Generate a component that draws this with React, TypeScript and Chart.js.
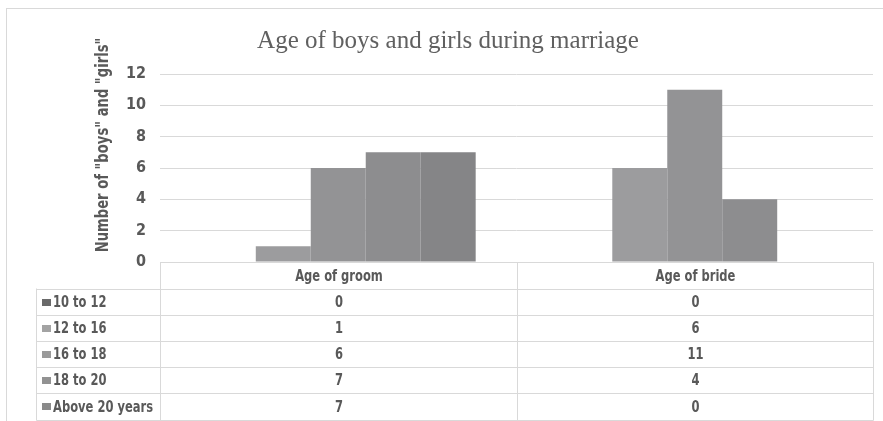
import React, { useEffect, useRef } from "react";
import { Chart, registerables } from "chart.js";

Chart.register(...registerables);

const categories = ["Age of groom", "Age of bride"];
const seriesNames = ["10 to 12", "12 to 16", "16 to 18", "18 to 20", "Above 20 years"];
const groomValues = [0, 1, 6, 7, 7];
const brideValues = [0, 6, 11, 4, 0];
const barColors = ["#6f6f6f", "#9c9c9e", "#939395", "#8d8d8f", "#858587"];
const legendColors = ["#6a6a6a", "#a3a3a3", "#9a9a9a", "#929292", "#8a8a8a"];
const yTicks = [0, 2, 4, 6, 8, 10, 12];
const chartTitle = "Age of boys and girls during marriage";
const yTitle = 'Number of "boys" and "girls"';

const COND = '"DejaVu Sans Condensed", "Liberation Sans Narrow", sans-serif';
const TEXT = "#595959";
const LINE = "#d9d9d9";
const SX = 0.8;

function condText(ctx: any, text: string, x: number, y: number, align: string, sx: number = SX) {
  ctx.save();
  ctx.translate(x, y);
  ctx.scale(sx, 1);
  ctx.textAlign = align;
  ctx.fillText(text, 0, 0);
  ctx.restore();
}

const decorPlugin = {
  id: "decor",
  afterDraw(chart: any) {
    const ctx = chart.ctx;
    const xs = chart.scales.x;
    const { left, right, bottom } = chart.chartArea;
    ctx.save();
    // outer border
    ctx.strokeStyle = LINE;
    ctx.lineWidth = 1;
    ctx.strokeRect(6.5, 8.5, 900, 430);
    // title
    ctx.fillStyle = "#606060";
    ctx.font = '25px "Liberation Serif", "DejaVu Serif", serif';
    ctx.textAlign = "center";
    ctx.textBaseline = "alphabetic";
    ctx.fillText(chartTitle, 448, 48);
    // y title
    ctx.save();
    ctx.translate(104, 145);
    ctx.rotate(-Math.PI / 2);
    ctx.font = "bold 17px " + COND;
    ctx.fillStyle = TEXT;
    ctx.textBaseline = "middle";
    condText(ctx, yTitle, 0, 0, "center", 0.86);
    ctx.restore();

    // data table
    const mid = Math.round((xs.getPixelForValue(0) + xs.getPixelForValue(1)) / 2) + 0.5;
    const L = Math.round(left) + 0.5;
    const R = Math.round(right) + 0.5;
    const top = Math.round(bottom) + 0.5;
    const labelLeft = 36.5;
    const headerH = 26;
    const rowH = 26.2;
    const nRows = seriesNames.length;
    const tableBottom = Math.round(top + headerH + rowH * nRows) + 0.5;
    ctx.strokeStyle = LINE;
    ctx.lineWidth = 1;
    ctx.beginPath();
    ctx.moveTo(L, top);
    ctx.lineTo(R, top);
    ctx.moveTo(L, top);
    ctx.lineTo(L, tableBottom);
    ctx.moveTo(mid, top);
    ctx.lineTo(mid, tableBottom);
    ctx.moveTo(R, top);
    ctx.lineTo(R, tableBottom);
    ctx.moveTo(labelLeft, top + headerH);
    ctx.lineTo(labelLeft, tableBottom);
    for (let i = 0; i <= nRows; i++) {
      const y = Math.round(top + headerH + rowH * i) + 0.5;
      ctx.moveTo(labelLeft, y);
      ctx.lineTo(R, y);
    }
    ctx.stroke();

    ctx.font = "bold 16px " + COND;
    ctx.fillStyle = TEXT;
    ctx.textBaseline = "middle";
    const colCenters = [(L + mid) / 2, (mid + R) / 2];
    categories.forEach((c, i) => {
      condText(ctx, c, colCenters[i], top + headerH / 2 + 1, "center");
    });
    chart.data.datasets.forEach((ds: any, r: number) => {
      const cy = top + headerH + rowH * r + rowH / 2 + 1;
      ctx.fillStyle = legendColors[r];
      ctx.fillRect(42, Math.round(cy - 4), 9, 7);
      ctx.fillStyle = TEXT;
      condText(ctx, ds.label, 53, cy, "left");
      ds.data.forEach((v: number, c: number) => {
        condText(ctx, String(v), colCenters[c], cy, "center");
      });
    });
    ctx.restore();
  },
};

export default function App() {
  const ref = useRef<HTMLCanvasElement>(null);
  useEffect(() => {
    document.body.style.margin = "0";
    const seriesData = seriesNames.map((_, i) => [groomValues[i], brideValues[i]]);
    const chart = new Chart(ref.current as HTMLCanvasElement, {
      type: "bar",
      data: {
        labels: categories,
        datasets: seriesNames.map((name, i) => ({
          label: name,
          data: seriesData[i],
          backgroundColor: barColors[i],
          borderWidth: 0,
          barPercentage: 1,
          categoryPercentage: 0.771,
        })),
      },
      options: {
        animation: false,
        responsive: false,
        maintainAspectRatio: false,
        layout: { padding: { top: 74, bottom: 159, right: 10, left: 0 } },
        plugins: {
          legend: { display: false },
          title: { display: false },
          tooltip: { enabled: false },
        },
        scales: {
          x: {
            display: false,
            offset: true,
          },
          y: {
            min: 0,
            max: 12,
            afterFit: (scale: any) => {
              scale.width = 160;
            },
            afterBuildTicks: (scale: any) => {
              scale.ticks = yTicks.map((v) => ({ value: v }));
            },
            grid: { color: LINE, drawTicks: false, lineWidth: 1 },
            border: { display: false },
            ticks: {
              padding: 14,
              color: TEXT,
              font: { family: COND, size: 16, weight: "bold" },
            },
          },
        },
      },
      plugins: [decorPlugin],
    });
    return () => chart.destroy();
  }, []);
  return (
    <div style={{ width: 883, height: 421, position: "relative" }}>
      <canvas ref={ref} width={883} height={421} style={{ display: "block" }} />
    </div>
  );
}
